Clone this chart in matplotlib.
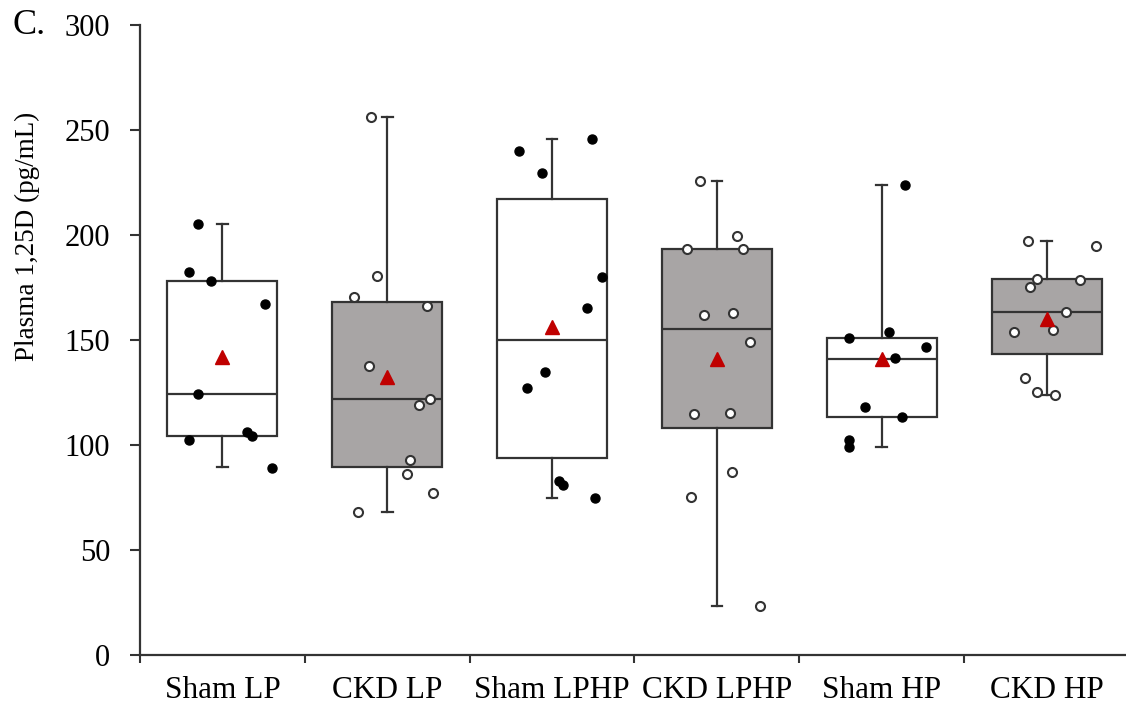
import matplotlib.pyplot as plt
import numpy as np

# groups and box statistics
groups  = ["Sham LP", "CKD LP", "Sham LPHP", "CKD LPHP", "Sham HP", "CKD HP"]
whislo  = [89.7, 68.0, 74.6, 23.5, 98.9, 123.8]
q1      = [104.4, 89.7, 93.7, 108.2, 113.2, 143.3]
median  = [124.3, 121.8, 150.0, 155.2, 141.0, 163.5]
q3      = [178.1, 168.2, 217.0, 193.3, 151.1, 178.9]
whishi  = [205.2, 256.0, 245.6, 225.9, 223.8, 197.3]
means   = [142.0, 132.5, 156.3, 141.0, 141.0, 159.8]

# individual animals
sham_lp   = [205.2, 182.5, 178.1, 167.0, 124.3, 102.4, 106.3, 104.3, 89.2]
ckd_lp    = [256.0, 180.6, 170.3, 166.2, 137.8, 121.8, 119.0, 93.0, 86.0, 77.0, 68.0]
sham_lphp = [240.2, 245.6, 229.4, 179.8, 165.1, 134.9, 127.0, 83.0, 81.0, 74.6]
ckd_lphp  = [225.9, 199.5, 193.3, 193.3, 161.9, 162.7, 148.9, 114.6, 115.1, 87.0, 75.1, 23.5]
sham_hp   = [223.8, 154.0, 151.1, 146.8, 141.3, 117.9, 113.2, 102.4, 98.9]
ckd_hp    = [197.3, 194.8, 179.0, 175.4, 178.6, 163.5, 153.7, 154.8, 131.8, 125.1, 123.7]
points = [sham_lp, ckd_lp, sham_lphp, ckd_lphp, sham_hp, ckd_hp]

# horizontal scatter of the dots (fraction of a category width)
jitter = [
    [-0.15, -0.20, -0.07, 0.26, -0.15, -0.20, 0.15, 0.18, 0.30],
    [-0.10, -0.06, -0.20, 0.24, -0.11, 0.26, 0.19, 0.14, 0.12, 0.28, -0.18],
    [-0.20, 0.24, -0.06, 0.30, 0.21, -0.04, -0.15, 0.04, 0.065, 0.26],
    [-0.10, 0.12, -0.18, 0.16, -0.08, 0.10, 0.20, -0.14, 0.08, 0.09, -0.16, 0.26],
    [0.14, 0.045, -0.20, 0.27, 0.08, -0.10, 0.125, -0.20, -0.20],
    [-0.11, 0.30, -0.06, -0.10, 0.20, 0.115, -0.20, 0.04, -0.13, -0.06, 0.05],
]

plt.rcParams['font.family'] = ['Liberation Serif', 'DejaVu Serif']
dark = '#333333'

fig = plt.figure(figsize=(11.26, 7.08), dpi=100)
ax = fig.add_axes([140/1126, 53/708, 989/1126, 630/708])

stats = []
for i in range(len(groups)):
    stats.append(dict(whislo=whislo[i], q1=q1[i], med=median[i], q3=q3[i],
                      whishi=whishi[i], mean=means[i], fliers=[]))

x = np.arange(len(groups))
bp = ax.bxp(stats, positions=x, widths=0.667, capwidths=0.065,
            showmeans=True, patch_artist=True, showfliers=False,
            boxprops=dict(edgecolor=dark, linewidth=1.6),
            medianprops=dict(color=dark, linewidth=1.6),
            whiskerprops=dict(color=dark, linewidth=1.6),
            capprops=dict(color=dark, linewidth=1.6),
            meanprops=dict(marker='^', markerfacecolor='#c00000',
                           markeredgecolor='#c00000', markersize=10))
for i, box in enumerate(bp['boxes']):
    box.set_facecolor('white' if i % 2 == 0 else '#a8a5a5')
for m in bp['means']:
    m.set_zorder(5)

for i, vals in enumerate(points):
    xs = x[i] + np.array(jitter[i])
    if i % 2 == 0:
        ax.plot(xs, vals, 'o', color='black', markersize=6.5, zorder=4)
    else:
        ax.plot(xs, vals, 'o', markerfacecolor='white', markeredgecolor=dark,
                markeredgewidth=1.5, markersize=6.5, zorder=4)

ax.set_xlim(-0.5, 5.5)
ax.set_ylim(0, 300)
ax.set_yticks([0, 50, 100, 150, 200, 250, 300])
ax.set_xticks(x)
ax.set_xticklabels(groups, fontsize=22.5)
ax.set_xticks(np.arange(-0.5, 5.6, 1), minor=True)
ax.tick_params(axis='x', which='major', length=0, pad=15)
ax.tick_params(axis='x', which='minor', length=6, width=1.5, color=dark, direction='out')
ax.tick_params(axis='y', labelsize=22, length=7.5, width=1.5, color=dark, pad=14)

for s in ['top', 'right']:
    ax.spines[s].set_visible(False)
for s in ['left', 'bottom']:
    ax.spines[s].set_color(dark)
    ax.spines[s].set_linewidth(1.6)

fig.text(27/1126, 1 - 236/708, "Plasma 1,25D (pg/mL)", rotation=90,
         ha='center', va='center', fontsize=19.5)
fig.text(13/1126, 1 - 25/708, "C.", ha='left', va='center', fontsize=26)

fig.savefig('out.png', dpi=100)
